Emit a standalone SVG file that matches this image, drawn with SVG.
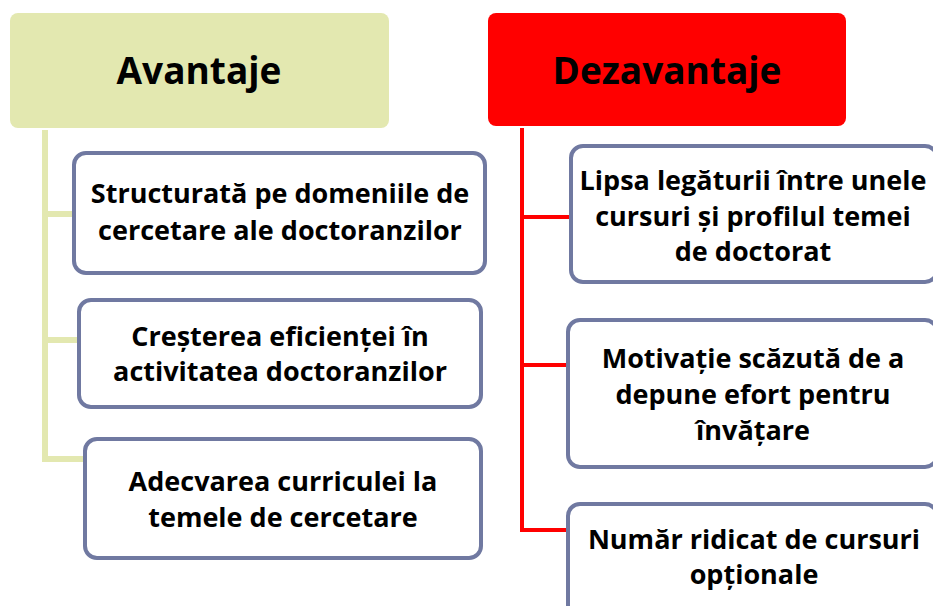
<svg xmlns="http://www.w3.org/2000/svg" width="933" height="606" viewBox="0 0 933 606">
<style>
.hdr{font-family:"Open Sans",Lato,"Liberation Sans",sans-serif;font-weight:bold;font-size:37px;fill:#000;text-anchor:middle}
.t{font-family:"Open Sans",Lato,"Liberation Sans",sans-serif;font-weight:bold;font-size:27px;fill:#000;text-anchor:middle}
.box{fill:#fff;stroke:#7079a1;stroke-width:4}
.cl{fill:none;stroke:#e3e8b0;stroke-width:6}
.cr{fill:none;stroke:#ff0000;stroke-width:4}
</style>
<rect width="933" height="606" fill="#fff"/>
<g id="connectors">
<path class="cl" d="M45,130 V459 H90 M45,214 H78 M45,340 H82"/>
<path class="cr" d="M522,128 V530 H570 M522,217 H572 M522,365 H570"/>
</g>
<g id="avantaje">
<rect x="10" y="13" width="379" height="115" rx="8" fill="#e3e8b0"/>
<text class="hdr" x="199" y="84">Avantaje</text>
</g>
<g id="dezavantaje">
<rect x="488" y="13" width="358" height="113" rx="8" fill="#ff0000"/>
<text class="hdr" x="667" y="84">Dezavantaje</text>
</g>
<g id="a1">
<rect class="box" x="74" y="153" width="411" height="120" rx="12"/>
<text class="t" x="280" y="203">Structurată pe domeniile de</text>
<text class="t" x="280" y="240">cercetare ale doctoranzilor</text>
</g>
<g id="a2">
<rect class="box" x="79" y="300" width="402" height="107" rx="12"/>
<text class="t" x="280" y="346">Creșterea eficienței în</text>
<text class="t" x="280" y="381">activitatea doctoranzilor</text>
</g>
<g id="a3">
<rect class="box" x="85" y="439" width="396" height="119" rx="12"/>
<text class="t" x="283" y="491">Adecvarea curriculei la</text>
<text class="t" x="283" y="527">temele de cercetare</text>
</g>
<g id="d1">
<rect class="box" x="571" y="146" width="366" height="136" rx="12"/>
<text class="t" x="753" y="190">Lipsa legăturii între unele</text>
<text class="t" x="753" y="226">cursuri și profilul temei</text>
<text class="t" x="753" y="261">de doctorat</text>
</g>
<g id="d2">
<rect class="box" x="568" y="320" width="369" height="147" rx="12"/>
<text class="t" x="753" y="368">Motivație scăzută de a</text>
<text class="t" x="753" y="404">depune efort pentru</text>
<text class="t" x="753" y="440">învățare</text>
</g>
<g id="d3">
<rect class="box" x="568" y="504" width="369" height="120" rx="12"/>
<text class="t" x="754" y="549">Număr ridicat de cursuri</text>
<text class="t" x="754" y="584">opționale</text>
</g>
</svg>
